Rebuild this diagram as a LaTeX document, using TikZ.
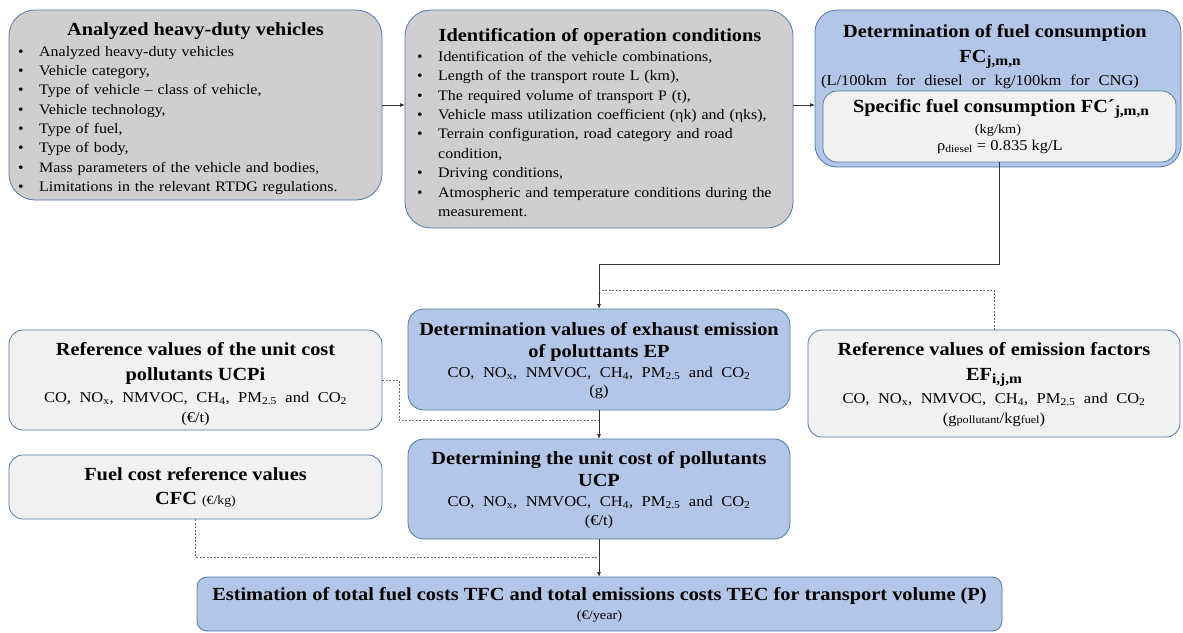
\documentclass[tikz,border=0pt]{standalone}
\usepackage{fontspec}
\setmainfont{Liberation Serif}[FakeStretch=1.1]
\usetikzlibrary{arrows.meta}
\definecolor{grayf}{RGB}{208,206,206}
\definecolor{lightf}{RGB}{241,241,241}
\definecolor{bluef}{RGB}{178,198,231}
\definecolor{bordc}{RGB}{84,120,165}
\definecolor{connc}{RGB}{50,50,50}
\definecolor{dashc}{RGB}{110,110,110}
\newcommand{\blt}{\makebox[21pt][l]{\textbullet}}
\newcommand{\pollist}{{\spaceskip=8.5pt\relax CO, NO\textsubscript{x}, NMVOC, CH\textsubscript{4}, PM\textsubscript{2.5} and CO\textsubscript{2}}}
\newcommand{\bsub}[1]{\raisebox{-3.5pt}{\fontsize{14}{14}\selectfont #1}}
\tikzset{
  box/.style={draw=bordc, line width=0.8pt, inner sep=0pt, outer sep=0pt},
  gbox/.style={box, fill=grayf, rounded corners=26pt},
  lbox/.style={box, fill=lightf, rounded corners=14pt},
  bbox/.style={box, fill=bluef, rounded corners=16pt},
  tt/.style={font=\fontsize{18.5}{21}\selectfont\bfseries, inner sep=0pt, anchor=base},
  bt/.style={font=\fontsize{15}{18}\selectfont, inner sep=0pt, anchor=base},
  st/.style={font=\fontsize{13}{15}\selectfont, inner sep=0pt, anchor=base},
  listtxt/.style={font=\fontsize{14.5}{19.3}\selectfont, inner sep=0pt, anchor=north west, align=left},
  conn/.style={draw=connc, line width=0.8pt},
  arr/.style={conn, -{Latex[length=5pt,width=4pt]}},
  dsh/.style={draw=dashc, line width=0.7pt, dash pattern=on 2pt off 1.5pt}
}
\begin{document}
\begin{tikzpicture}[x=1pt,y=-1pt]
\useasboundingbox (0,0) rectangle (1183,632);

% boxes
\node[gbox, minimum width=373pt, minimum height=190pt] (b1) at (195.5,105) {};
\node[gbox, minimum width=388pt, minimum height=218pt] (b2) at (599,119) {};
\node[bbox, rounded corners=22pt, minimum width=366pt, minimum height=157pt] (b3) at (998,88.5) {};
\node[lbox, minimum width=353pt, minimum height=71pt] (b3i) at (999.5,126.5) {};
\node[bbox, minimum width=382pt, minimum height=101pt] (ep) at (599,359.5) {};
\node[lbox, minimum width=373pt, minimum height=100pt] (ucpi) at (195.5,380) {};
\node[lbox, minimum width=372pt, minimum height=107pt] (ef) at (994,383.5) {};
\node[bbox, minimum width=382pt, minimum height=100pt] (ucp) at (599,489) {};
\node[lbox, minimum width=373pt, minimum height=64pt] (fuel) at (195.5,487) {};
\node[bbox, rounded corners=10pt, minimum width=805pt, minimum height=54pt] (bot) at (599.5,604) {};

% box 1 text
\node[tt] (b1h) at (195.5,35) {Analyzed heavy-duty vehicles};
\node[listtxt, text width=350pt] (b1l) at (18,44) {\rule{0pt}{12pt}\blt Analyzed heavy-duty vehicles\\
\blt Vehicle category,\\
\blt Type of vehicle -- class of vehicle,\\
\blt Vehicle technology,\\
\blt Type of fuel,\\
\blt Type of body,\\
\blt Mass parameters of the vehicle and bodies,\\
\blt Limitations in the relevant RTDG regulations.};

% box 2 text
\node[tt] (b2h) at (600,41) {Identification of operation conditions};
\node[listtxt, text width=370pt, font=\fontsize{14.5}{19.4}\selectfont] (b2l) at (417,49) {\rule{0pt}{12pt}\blt Identification of the vehicle combinations,\\
\blt Length of the transport route L (km),\\
\blt The required volume of transport P (t),\\
\blt Vehicle mass utilization coefficient (ηk) and (ηks),\\
\blt Terrain configuration, road category and road\\
\hspace*{21pt}condition,\\
\blt Driving conditions,\\
\blt Atmospheric and temperature conditions during the\\
\hspace*{21pt}measurement.};

% box 3 text
\node[tt] (b3a) at (995,37) {Determination of fuel consumption};
\node[tt] (b3b) at (990,62) {FC\bsub{j,m,n}};
\node[bt] (b3c) at (980,85) {{\spaceskip=9pt\relax (L/100km for diesel or kg/100km for CNG)}};
\node[tt] (b3d) at (1001,112) {Specific fuel consumption FC´\bsub{j,m,n}};
\node[st] (b3e) at (998,133) {(kg/km)};
\node[bt] (b3f) at (1000,150) {ρ\textsubscript{diesel} = 0.835 kg/L};

% EP
\node[tt] (ep1) at (599,335) {Determination values of exhaust emission};
\node[tt] (ep2) at (599,357) {of poluttants EP};
\node[bt] (ep3) at (599,377) {\pollist};
\node[bt] (ep4) at (599,395) {(g)};

% UCPi
\node[tt] (u1) at (195.5,355) {Reference values of the unit cost};
\node[tt] (u2) at (195.5,380) {pollutants UCPi};
\node[bt] (u3) at (195.5,402) {\pollist};
\node[bt] (u4) at (195.5,422) {(€/t)};

% EF
\node[tt] (e1) at (994,355) {Reference values of emission factors};
\node[tt] (e2) at (994,380) {EF\bsub{i,j,m}};
\node[bt] (e3) at (994,403) {\pollist};
\node[bt] (e4) at (994,423) {(g{\fontsize{11}{12}\selectfont pollutant}/kg{\fontsize{11}{12}\selectfont fuel})};

% UCP
\node[tt] (c1) at (599,464) {Determining the unit cost of pollutants};
\node[tt] (c2) at (599,486) {UCP};
\node[bt] (c3) at (599,506) {\pollist};
\node[bt] (c4) at (599,525) {(€/t)};

% Fuel
\node[tt] (f1) at (195.5,480) {Fuel cost reference values};
\node[tt] (f2) at (195.5,504) {CFC {\fontsize{12.5}{13}\selectfont\mdseries (€/kg)}};

% bottom
\node[tt] (t1) at (599.5,600) {Estimation of total fuel costs TFC and total emissions costs TEC for transport volume (P)};
\node[st] (t2) at (599.5,619) {(€/year)};

% connectors
\coordinate (j1) at (999.5,264);
\coordinate (d1) at (599,290);
\coordinate (d2) at (599,420);
\coordinate (d3) at (599,557);
\draw[arr] (b1.east) -- (b1.east -| b2.west);
\draw[arr] (b2.east |- b1.east) -- (b3.west |- b1.east);
\draw[arr] (b3i.south) -- (j1) -| (ep.north);
\draw[dsh] (ef.north) |- (d1);
\draw[dsh] (ucpi.east) -- ++(17,0) |- (d2);
\draw[arr] (ep.south) -- (ucp.north);
\draw[dsh] (fuel.south) |- (d3);
\draw[arr] (ucp.south) -- (ucp.south |- bot.north);
\end{tikzpicture}
\end{document}
